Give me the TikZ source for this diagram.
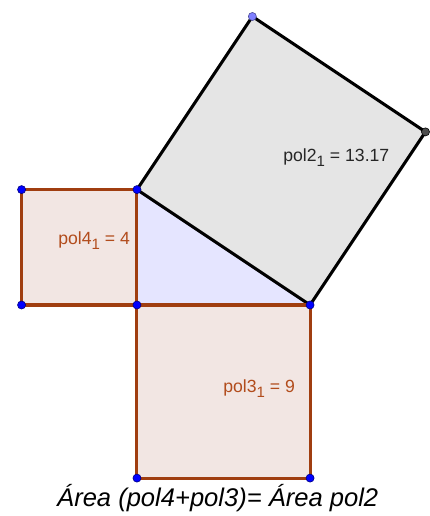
\documentclass[tikz,border=0pt]{standalone}
\usepackage{fontspec}
\setmainfont{Liberation Sans}
\usetikzlibrary{positioning}
\definecolor{marron}{HTML}{A03E10}
\definecolor{marront}{HTML}{B24C1C}
\definecolor{rosa}{HTML}{F2E6E3}
\definecolor{lila}{HTML}{E5E5FF}
\definecolor{grisc}{HTML}{E5E5E5}
\definecolor{azulp}{HTML}{0000FF}
\definecolor{azulc}{HTML}{7F7FFF}
\newcommand{\subi}{\raisebox{-0.45ex}{\fontsize{7.4}{8}\selectfont 1}}

\begin{document}
\begin{tikzpicture}[font=\fontsize{8.7}{10}\selectfont,
        lado/.style={marron,line width=1.5pt,line join=round},
        ladon/.style={black,line width=1.5pt,line join=round},
        pt/.style={fill=azulp,draw=azulp!50!black,line width=0.3pt},
        et/.style={anchor=base west,inner sep=0pt}]
        \useasboundingbox (-2.374,-3.657) rectangle (5.061,5.286);
        \coordinate (C) at (0,0);
        \coordinate (A) at (0,2);
        \coordinate (B) at (3,0);
        \coordinate (D) at (5,3);
        \coordinate (E) at (2,5);
        \coordinate (P1) at (-2,2);
        \coordinate (P2) at (-2,0);
        \coordinate (Q1) at (3,-3);
        \coordinate (Q2) at (0,-3);
        % rellenos
        \fill[grisc] (A) -- (B) -- (D) -- (E) -- cycle;
        \fill[lila] (C) -- (B) -- (A) -- cycle;
        \fill[rosa] (C) -- (A) -- (P1) -- (P2) -- cycle;
        \fill[rosa] (C) -- (B) -- (Q1) -- (Q2) -- cycle;
        % lados
        \draw[ladon] (A) -- (B) -- (D) -- (E) -- cycle;
        \draw[lado] (C) -- (A) -- (P1) -- (P2) -- cycle;
        \draw[lado] (C) -- (B) -- (Q1) -- (Q2) -- cycle;
        % puntos
        \foreach \p in {C,A,B,P1,P2,Q1,Q2} \filldraw[pt] (\p) circle (0.07);
        \filldraw[fill=azulc,draw=azulc!60!black,line width=0.3pt] (E) circle (0.07);
        \filldraw[fill=black!70,draw=black,line width=0.3pt] (D) circle (0.07);
        % etiquetas
        \node[et,text=black!85] (l2) at (2.53,2.48) {pol2\subi{} = 13.17};
        \node[et,text=marront] (l4) at (-1.37,1.04) {pol4\subi{} = 4};
        \node[et,text=marront] (l3) at (1.49,-1.525) {pol3\subi{} = 9};
        \node[anchor=base,inner sep=0pt,font=\fontsize{12.6}{14}\selectfont\itshape] (tit) at (1.40,-3.50) {Área (pol4+pol3)= Área pol2};
      \end{tikzpicture}
\end{document}
